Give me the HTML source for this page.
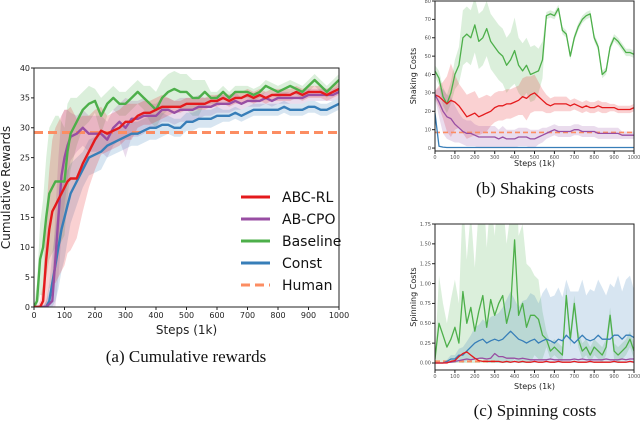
<!DOCTYPE html>
<html><head><meta charset="utf-8"><style>
html,body{margin:0;padding:0;background:#fff;width:640px;height:422px;overflow:hidden}
svg text{font-family:"DejaVu Sans","Liberation Sans",sans-serif}
.cap{font-family:"Liberation Serif",serif}
</style></head><body>
<svg id="fig" width="640" height="422" viewBox="0 0 640 422" xmlns="http://www.w3.org/2000/svg">
<defs>
<clipPath id="clipA"><rect x="34" y="68" width="305" height="239"/></clipPath>
<clipPath id="clipB"><rect x="435" y="1" width="199" height="150"/></clipPath>
<clipPath id="clipC"><rect x="435" y="224" width="199" height="146"/></clipPath>
</defs>
<g id="gA"></g>
<g id="gB"></g>
<g id="gC"></g>
</svg>
<script>
// ---- Chart A data ----
const stepsA=[0,10,20,30,40,50,60,70,80,90,100,110,120,140,160,180,200,220,240,260,280,300,320,340,360,380,400,420,440,460,480,500,520,540,560,580,600,620,640,660,680,700,720,740,760,780,800,820,840,860,880,900,920,940,960,980,1000];
const baselineA=[0,1,8,10,15,19,20,21,21,21,21,26,29,31,33,34,34.5,32,34,35,34,34,35,36,35,34,33,35,36,36.5,36,36,35,35,36,35,35,36,35,36,36,36,35.5,36,37,36.5,36,36.5,37,36.5,36,37,38,37,36,37,38];
const abcrlA=[0,0,0,1,8,13,16,17,18,19,20,21,21.5,21.5,24,26,28,29.5,29,29.5,30,31,31,32,32.5,32.5,33,33.5,33.5,33.5,33.5,34,34,34,34,34.5,34.5,35,34.5,35,35,35.5,35,35.5,35,35.5,35.5,35.5,35.5,36,35.5,36,36,36,35.5,36,36.5];
const abcpoA=[0,0,0,0,0,0.5,1,8,15,22,25,27,28.5,29,30,29,29,29,28,30,31,30,31.5,31.5,32,32,32,33,33,32.5,33,33,33,33.5,33.5,33.5,34,34,34,34.5,34,34.5,34.5,34.5,35,34.5,35,35,35,35,35,35.5,35.5,35.5,35.5,35.5,36];
const constA=[0,0,0,0,0,1,4,7,10,13,15,17,19,21,23,25,25.5,26,27,27.5,28,28.5,29,29,29.5,30,30,30.5,30.5,30,30,31,31,31.5,31.5,31.5,32,32,32,32.5,32,32.5,33,33,33,33,33,33.5,33,33,33,33.5,33.5,33,33,33.5,34];
const baselineSpreadA=[0,3,6,8,10,11,11,11,11,10,9,8,6,4,3,3,2,3,2,2,2,2,2,2,2,3,3,3,3,3,3,3,3,3,2,1,1,1,1,1,1,1,1,1,1,1,1,1,1,1,1,1,1,1,1,1,1];
const abcrlSpreadA=[0,0,1,3,8,10,12,13,13,13,13,12,12,10,8,6,5,4,3,3,3,3,3,2,2,2,2,2,1.5,1,1,1,1,1,1,1,1,1,1,1,1,1,1,1,1,1,1,1,1,1,1,1,1,1,1,1,1];
const abcpoSpreadA=[0,0,0,0,1,2,4,8,10,10,8,6,4,3,3,3,3,3,3,3,3,5,3,3,3,2,2,2,2,2,2,2,2,2,1.5,1.5,1.5,1.5,1.5,1.5,1,1,1,1,1,1,1,1,1,1,1,1,1,1,1,1,1];
const constSpreadA=[0,0,0,0,1,3,5,6,7,7,7,6,5,4,3,3,3,3,2,2,2,2,2,2,2,2,2,2,1.5,1.5,1.5,1.5,1.5,1.5,1.5,1.5,1.5,1,1,1,1,1,1,1,1,1,1,1,1,1,1,1,1,1,1,1,1];
const humanA=29.2;
const yTicksA=[0,5,10,15,20,25,30,35,40];
const xTicks=[0,100,200,300,400,500,600,700,800,900,1000];
const legendLabels=["ABC-RL","AB-CPO","Baseline","Const","Human"];
// ---- Chart B/C data ----
const stepsBC=[0,20,40,60,80,100,120,140,160,180,200,220,240,260,280,300,320,340,360,380,400,420,440,460,480,500,520,540,560,580,600,620,640,660,680,700,720,740,760,780,800,820,840,860,880,900,920,940,960,980,1000];
const baselineB=[42,38,28,24,30,40,45,60,62,60,67,58,60,65,58,55,52,50,45,48,53,45,42,45,40,41,42,48,72,73,72,76,64,62,50,60,66,70,72,73,60,55,40,42,55,60,58,55,52,52,51];
const baselineSpreadB=[3,4,5,5,6,8,10,15,15,15,15,15,15,15,15,15,15,15,15,15,18,15,15,15,15,15,12,10,2,2,2,2,2,2,2,2,2,2,2,2,2,2,2,2,2,2,2,2,2,2,2];
const abcrlB=[29,28,26,24,26,25,23,20,17,18,19,17,18,19,20,22,23,23,24,24,25,26,28,27,29,30,28,26,24,23,24,24,24,24,23,24,23,22,23,22,22,23,22,22,22,22,21,21,21,21,22];
const abcrlSpreadB=[2,6,10,15,20,15,12,12,12,12,12,10,10,10,8,8,8,8,8,8,8,8,10,12,10,10,8,6,5,4,4,4,4,4,3,3,3,3,3,3,3,3,3,3,2,2,2,2,2,2,2];
const abcpoB=[29,25,20,17,16,13,11,9,8,8,7,6,6,6,6,6,5,6,5,5,5,6,6,6,5,5,6,7,8,9,10,9,9,9,9,10,10,9,9,9,9,8,8,8,8,8,8,7,7,7,7];
const abcpoSpreadB=[2,8,12,12,12,10,8,7,7,7,6,6,6,6,6,6,5,6,5,5,5,5,5,5,5,5,4,4,3,3,3,3,3,3,3,3,3,3,3,3,3,3,3,3,3,3,3,2,2,2,2];
const constB=[19,1,0.5,0.3,0.3,0.3,0.3,0.3,0.3,0.3,0.3,0.3,0.3,0.3,0.3,0.3,0.3,0.3,0.3,0.3,0.3,0.3,0.3,0.3,0.3,0.3,0.3,0.3,0.3,0.3,0.3,0.3,0.3,0.3,0.3,0.3,0.3,0.3,0.3,0.3,0.3,0.3,0.3,0.3,0.3,0.3,0.3,0.3,0.3,0.3,0.3];
const humanB=8.5;
const yTicksB=[0,10,20,30,40,50,60,70,80];
const baselineC=[0.05,0.5,0.35,0.2,0.3,0.45,0.25,0.9,0.5,0.7,0.4,0.65,0.85,0.45,0.8,0.6,0.75,0.85,0.5,0.7,1.55,0.6,0.75,0.45,0.6,0.6,0.55,0.35,0.3,0.15,0.2,0.15,0.1,0.85,0.3,0.75,0.3,0.15,0.2,0.1,0.2,0.15,0.1,0.2,0.6,0.15,0.1,0.15,0.2,0.3,0.15];
const baselineSpreadC=[0.05,0.6,0.4,0.3,0.5,0.6,0.5,1.2,0.8,1.2,0.8,1.3,1.5,1,1.3,1,1.5,1.2,1,1.2,1.5,1,1,0.8,0.6,0.5,0.5,0.3,0.1,0.1,0.1,0.1,0.1,0.1,0.1,0.1,0.1,0.1,0.1,0.1,0.1,0.1,0.1,0.1,0.1,0.1,0.1,0.1,0.1,0.1,0.1];
const constC=[0,0,0,0.02,0.05,0.05,0.1,0.1,0.15,0.2,0.25,0.28,0.3,0.25,0.28,0.3,0.28,0.3,0.35,0.4,0.35,0.3,0.28,0.25,0.28,0.3,0.25,0.28,0.3,0.28,0.25,0.3,0.28,0.35,0.3,0.25,0.3,0.35,0.3,0.28,0.3,0.35,0.3,0.3,0.3,0.35,0.35,0.3,0.35,0.35,0.32];
const constSpreadC=[0,0,0,0.02,0.05,0.05,0.08,0.1,0.12,0.15,0.2,0.2,0.25,0.25,0.3,0.3,0.35,0.4,0.45,0.5,0.45,0.4,0.5,0.55,0.6,0.55,0.5,0.6,0.65,0.55,0.6,0.65,0.55,0.7,0.6,0.65,0.6,0.7,0.55,0.65,0.6,0.7,0.65,0.55,0.7,0.6,0.75,0.6,0.7,0.75,0.6];
const abcrlC=[0,0,0,0,0.02,0.03,0.08,0.12,0.14,0.1,0.06,0.03,0.02,0.02,0.02,0.02,0.02,0.01,0.02,0.01,0.02,0.01,0.02,0.01,0.01,0.02,0.01,0.01,0.02,0.01,0.01,0.02,0.01,0.01,0.01,0.02,0.01,0.01,0.01,0.02,0.01,0.01,0.01,0.01,0.01,0.02,0.01,0.01,0.01,0.02,0.01];
const abcpoC=[0,0,0,0.01,0.01,0.02,0.03,0.04,0.05,0.04,0.05,0.06,0.06,0.05,0.06,0.12,0.08,0.08,0.06,0.06,0.06,0.05,0.06,0.05,0.04,0.04,0.04,0.04,0.04,0.05,0.04,0.04,0.04,0.04,0.04,0.05,0.04,0.05,0.04,0.04,0.04,0.04,0.04,0.05,0.04,0.04,0.04,0.05,0.04,0.05,0.05];
const humanC=0.02;
const yTicksC=[0,0.25,0.5,0.75,1.0,1.25,1.5,1.75];

const COL={red:"#e41a1c",purple:"#984ea3",green:"#4daf4a",blue:"#377eb8",orange:"#fc8d62"};
const NS="http://www.w3.org/2000/svg";
function mk(tag,attrs,parent){const e=document.createElementNS(NS,tag);for(const k in attrs)e.setAttribute(k,attrs[k]);parent.appendChild(e);return e;}

function axes(cfg){
  const sx=v=>cfg.x0+(v-0)/1000*(cfg.x1-cfg.x0);
  const sy=v=>cfg.yb-(v-cfg.ymin)/(cfg.ymax-cfg.ymin)*(cfg.yb-cfg.yt);
  return {sx,sy};
}
function drawBand(g,steps,vals,spr,sx,sy,color,clip,name){
  let d="";
  steps.forEach((s,i)=>{d+=(i?"L":"M")+sx(s).toFixed(1)+","+sy(vals[i]+spr[i]).toFixed(1);});
  for(let i=steps.length-1;i>=0;i--){d+="L"+sx(steps[i]).toFixed(1)+","+sy(Math.max(0,vals[i]-spr[i])).toFixed(1);}
  const p=mk("path",{d:d+"Z",fill:color,"fill-opacity":0.2,stroke:"none","clip-path":clip},g);
  
  
}
function drawLine(g,steps,vals,sx,sy,color,w,clip,name){
  const pts=steps.map((s,i)=>sx(s).toFixed(1)+","+sy(vals[i]).toFixed(1)).join(" ");
  const p=mk("polyline",{points:pts,fill:"none",stroke:color,"stroke-width":w,"stroke-linejoin":"round","clip-path":clip},g);
  
  
}
function frame(g,cfg,sx,sy,yt,fmt,fs,tickColor,ylab,ylx,xlabY,xlabFs){
  const r=mk("rect",{x:cfg.x0,y:cfg.yt,width:cfg.x1-cfg.x0,height:cfg.yb-cfg.yt,fill:"none",stroke:"#222","stroke-width":1},g);
  
  
  xTicks.forEach(t=>{
    mk("line",{x1:sx(t),x2:sx(t),y1:cfg.yb,y2:cfg.yb+3,stroke:"#222"},g);
    const tx=mk("text",{x:sx(t),y:cfg.yb+3+fs,"font-size":fs,"text-anchor":"middle",fill:tickColor},g);
    tx.textContent=t;
    
    
  });
  yt.forEach(t=>{
    mk("line",{x1:cfg.x0-3,x2:cfg.x0,y1:sy(t),y2:sy(t),stroke:"#222"},g);
    const tx=mk("text",{x:cfg.x0-4,y:sy(t)+fs*0.35,"font-size":fs,"text-anchor":"end",fill:tickColor},g);
    tx.textContent=fmt(t);
    
    
  });
  const xl=mk("text",{x:(cfg.x0+cfg.x1)/2,y:xlabY,"font-size":xlabFs,"text-anchor":"middle",fill:"#222"},g);
  xl.textContent="Steps (1k)";
  
  
  const cy=(cfg.yt+cfg.yb)/2;
  const yl=mk("text",{x:ylx,y:cy,"font-size":xlabFs,"text-anchor":"middle",fill:"#222",transform:`rotate(-90 ${ylx} ${cy})`},g);
  yl.textContent=ylab;
  
  
}
function caption(g,x,y,txt,name){
  const t=mk("text",{x:x,y:y,"font-size":17,"text-anchor":"middle",fill:"#111",class:"cap"},g);
  t.textContent=txt;
  
  
}

// Chart A
(function(){
  const g=document.getElementById("gA");
  const cfg={x0:34,x1:339,yt:68,yb:307,ymin:0,ymax:40};
  const {sx,sy}=axes(cfg);
  drawBand(g,stepsA,baselineA,baselineSpreadA,sx,sy,COL.green,"url(#clipA)","baseline-band");
  drawBand(g,stepsA,abcpoA,abcpoSpreadA,sx,sy,COL.purple,"url(#clipA)","ab-cpo-band");
  drawBand(g,stepsA,constA,constSpreadA,sx,sy,COL.blue,"url(#clipA)","const-band");
  drawBand(g,stepsA,abcrlA,abcrlSpreadA,sx,sy,COL.red,"url(#clipA)","abc-rl-band");
  const h=mk("line",{x1:cfg.x0,x2:cfg.x1,y1:sy(humanA),y2:sy(humanA),stroke:COL.orange,"stroke-width":3,"stroke-dasharray":"9,5"},g);
  
  
  drawLine(g,stepsA,constA,sx,sy,COL.blue,2.4,"url(#clipA)","const-line");
  drawLine(g,stepsA,abcpoA,sx,sy,COL.purple,2.4,"url(#clipA)","ab-cpo-line");
  drawLine(g,stepsA,baselineA,sx,sy,COL.green,2.4,"url(#clipA)","baseline-line");
  drawLine(g,stepsA,abcrlA,sx,sy,COL.red,2.4,"url(#clipA)","abc-rl-line");
  frame(g,cfg,sx,sy,yTicksA,v=>v,8,"#222","Cumulative Rewards",10,334,12);
  const cols=[COL.red,COL.purple,COL.green,COL.blue,COL.orange];
  legendLabels.forEach((lab,i)=>{
    const y=197+i*22;
    const ln=mk("line",{x1:241,x2:270,y1:y,y2:y,stroke:cols[i],"stroke-width":3,"stroke-dasharray":i===4?"9,5":"none"},g);
    
    
    const t=mk("text",{x:282,y:y+5,"font-size":14,fill:"#111"},g);
    t.textContent=lab;
    
    
  });
  caption(g,186,362,"(a) Cumulative rewards","caption-a");
})();

// Chart B
(function(){
  const g=document.getElementById("gB");
  const cfg={x0:435,x1:634,yt:1,yb:151,ymin:-1.6,ymax:80};
  const {sx,sy}=axes(cfg);
  drawBand(g,stepsBC,baselineB,baselineSpreadB,sx,sy,COL.green,"url(#clipB)","baseline-band");
  drawBand(g,stepsBC,abcrlB,abcrlSpreadB,sx,sy,COL.red,"url(#clipB)","abc-rl-band");
  drawBand(g,stepsBC,abcpoB,abcpoSpreadB,sx,sy,COL.purple,"url(#clipB)","ab-cpo-band");
  const h=mk("line",{x1:cfg.x0,x2:cfg.x1,y1:sy(humanB),y2:sy(humanB),stroke:COL.orange,"stroke-width":1.6,"stroke-dasharray":"5,3"},g);
  
  
  drawLine(g,stepsBC,baselineB,sx,sy,COL.green,1.3,"url(#clipB)","baseline-line");
  drawLine(g,stepsBC,abcrlB,sx,sy,COL.red,1.3,"url(#clipB)","abc-rl-line");
  drawLine(g,stepsBC,abcpoB,sx,sy,COL.purple,1.3,"url(#clipB)","ab-cpo-line");
  drawLine(g,stepsBC,constB,sx,sy,COL.blue,1.3,"url(#clipB)","const-line");
  frame(g,cfg,sx,sy,yTicksB,v=>v,5,"#555","Shaking Costs",416,166,8);
  caption(g,535,194,"(b) Shaking costs","caption-b");
})();

// Chart C
(function(){
  const g=document.getElementById("gC");
  const cfg={x0:435,x1:634,yt:224,yb:370,ymin:-0.0882,ymax:1.75};
  const {sx,sy}=axes(cfg);
  drawBand(g,stepsBC,baselineC,baselineSpreadC,sx,sy,COL.green,"url(#clipC)","baseline-band");
  drawBand(g,stepsBC,constC,constSpreadC,sx,sy,COL.blue,"url(#clipC)","const-band");
  const h=mk("line",{x1:cfg.x0,x2:cfg.x0+60,y1:sy(humanC),y2:sy(humanC),stroke:COL.orange,"stroke-width":2,"stroke-dasharray":"5,3"},g);
  
  
  drawLine(g,stepsBC,baselineC,sx,sy,COL.green,1.3,"url(#clipC)","baseline-line");
  drawLine(g,stepsBC,constC,sx,sy,COL.blue,1.3,"url(#clipC)","const-line");
  drawLine(g,stepsBC,abcpoC,sx,sy,COL.purple,1.3,"url(#clipC)","ab-cpo-line");
  drawLine(g,stepsBC,abcrlC,sx,sy,COL.red,1.3,"url(#clipC)","abc-rl-line");
  frame(g,cfg,sx,sy,yTicksC,v=>v.toFixed(2),5,"#555","Spinning Costs",416,389,8);
  caption(g,535,416,"(c) Spinning costs","caption-c");
})();
</script>
</body></html>
